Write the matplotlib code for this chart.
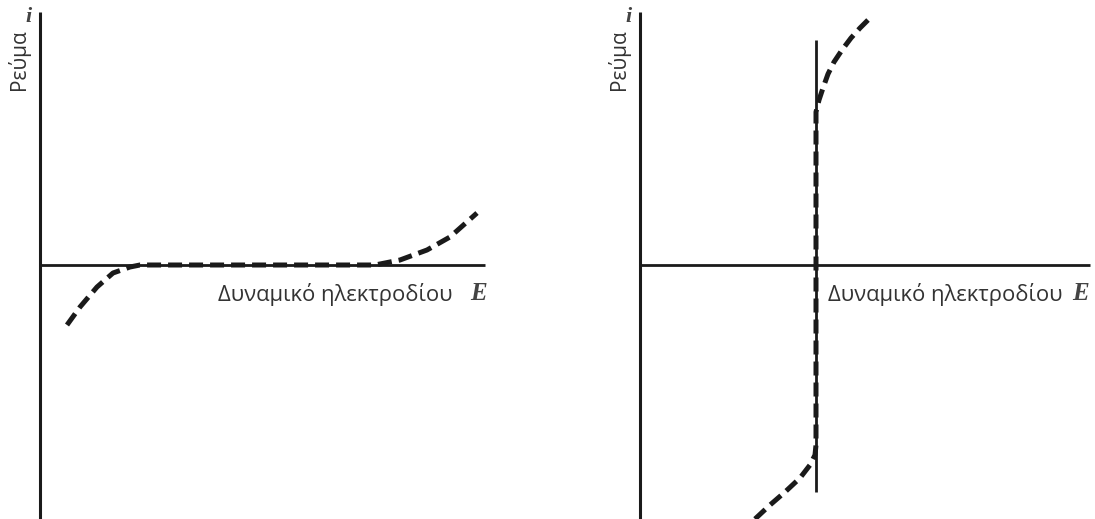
import matplotlib
matplotlib.use("Agg")
import matplotlib.pyplot as plt
import numpy as np

# axis units: potential E and current i (arbitrary units, origin at axes crossing)
x_label = "Δυναμικό ηλεκτροδίου"
y_label = "Ρεύμα"

# left panel: irreversible (slow) electrode
left_E = [2.7, 4.0, 5.7, 7.3, 9.0, 10.0, 33.5, 36.0, 38.7, 41.0, 43.7]
left_i = [-6.0, -4.2, -2.2, -0.8, -0.2, 0.0, 0.0, 0.5, 1.5, 2.8, 5.2]

# right panel: reversible (fast) electrode
right_E = [11.5, 13.0, 14.5, 16.0, 17.0, 17.5, 17.6, 17.6, 17.9, 18.3, 18.8,
           19.4, 20.2, 21.1, 22.0, 23.0]
right_i = [-25.4, -24.0, -22.7, -21.3, -20.0, -19.0, -18.0, 15.3, 16.5, 17.7,
           19.1, 20.3, 21.5, 22.7, 23.7, 24.7]
E_eq = 17.6
E_eq_span = [-22.7, 22.5]

axis_top = 25.3
left_axis_end = 44.5
right_axis_end = 45.0

ink = "#1a1a1a"
text_col = "#333333"

fig = plt.figure(figsize=(10.95, 5.19), dpi=100)
ax_l = fig.add_axes([0, 0, 0.5, 1])
ax_r = fig.add_axes([0.5, 0, 0.5, 1])

ax_l.set_xlim(-4.0, 50.75)
ax_r.set_xlim(-9.25, 45.5)


def draw_axes(ax, x_end):
    ax.set_ylim(-25.4, 26.5)
    ax.plot([0, 0], [-26, axis_top], color=ink, lw=2.2, solid_capstyle="butt")
    ax.plot([0, x_end], [0, 0], color=ink, lw=2.0, solid_capstyle="butt")
    ax.text(-2.2, 20.5, y_label, rotation=90, ha="center", va="center",
            fontsize=15, family="Open Sans", color=text_col)
    ax.text(-1.2, 24.8, "i", ha="center", va="center", fontsize=16,
            family="Liberation Serif", style="italic", weight="bold", color="#444444")
    ax.axis("off")


draw_axes(ax_l, left_axis_end)
draw_axes(ax_r, right_axis_end)

dash = dict(color=ink, lw=3.6, linestyle=(0, (2.8, 1.4)), dash_capstyle="butt")

ax_l.plot(left_E, left_i, **dash)
ax_l.text(17.8, -2.9, x_label, ha="left", va="center", fontsize=15.8,
          family="Open Sans", color=text_col)
ax_l.text(43.0, -2.9, "E", ha="left", va="center", fontsize=18,
          family="Liberation Serif", style="italic", weight="bold", color="#444444")

ax_r.plot([E_eq, E_eq], E_eq_span, color=ink, lw=2.0, solid_capstyle="butt")
ax_r.plot(right_E, right_i, **dash)
ax_r.text(18.8, -2.9, x_label, ha="left", va="center", fontsize=15.8,
          family="Open Sans", color=text_col)
ax_r.text(43.2, -2.9, "E", ha="left", va="center", fontsize=18,
          family="Liberation Serif", style="italic", weight="bold", color="#444444")

fig.savefig("out.png", dpi=100, facecolor="white")
